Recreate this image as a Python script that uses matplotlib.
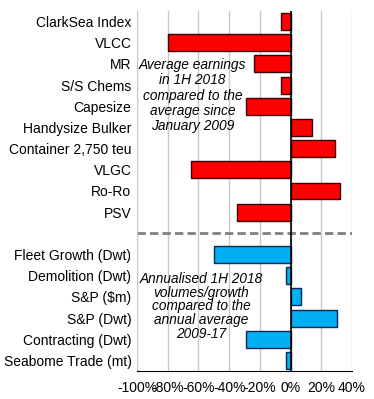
import matplotlib
matplotlib.use("Agg")
import matplotlib.pyplot as plt
import numpy as np

plt.rcParams['font.family'] = ['Liberation Sans', 'DejaVu Sans']

earn_labels = ["ClarkSea Index", "VLCC", "MR", "S/S Chems", "Capesize",
               "Handysize Bulker", "Container 2,750 teu", "VLGC", "Ro-Ro", "PSV"]
earn_values = [-6, -80, -23.5, -6, -29, 14, 29, -65, 32, -35]

vol_labels = ["Fleet Growth (Dwt)", "Demolition (Dwt)", "S&P ($m)", "S&P (Dwt)",
              "Contracting (Dwt)", "Seabome Trade (mt)"]
vol_values = [-50, -3, 7, 30, -29, -3]

xticks = [-100, -80, -60, -40, -20, 0, 20, 40]
xticklabels = ["-100%", "-80%", "-60%", "-40%", "-20%", "0%", "20%", "40%"]

fig = plt.figure(figsize=(3.74, 3.99), dpi=100)
ax = fig.add_axes([137/374, 1-371/399, 215/374, 360/399])

n_e = len(earn_labels)
n_v = len(vol_labels)
labels = earn_labels + [""] + vol_labels
y_e = np.arange(n_e)
y_gap = n_e
y_v = np.arange(n_e + 1, n_e + 1 + n_v)

ax.barh(y_e, earn_values, height=0.8, color="#FF0000", edgecolor="#3a0000", linewidth=1, zorder=3)
ax.barh(y_v, vol_values, height=0.8, color="#00B0F0", edgecolor="#0a2a55", linewidth=1, zorder=3)

ax.set_ylim(len(labels) - 0.5, -0.5)
ax.set_xlim(-100, 40)
ax.set_yticks(np.arange(len(labels)))
ax.set_yticklabels(labels, fontsize=10)
ax.set_xticks(xticks)
ax.set_xticklabels(xticklabels, fontsize=10)
ax.tick_params(axis='both', length=0, pad=4)
ax.tick_params(axis='x', pad=7)

ax.grid(axis='x', color="#c8c8c8", linewidth=1, zorder=0)
ax.axvline(0, color="black", linewidth=1.2, zorder=4)
ax.axhline(y_gap, color="#808080", linewidth=2, linestyle=(0, (3, 1.5)), zorder=2)

for s in ["top", "right"]:
    ax.spines[s].set_visible(False)
ax.spines["left"].set_color("#c8c8c8")
ax.spines["bottom"].set_color("black")

ax.text(-64, 3.5, "Average earnings\nin 1H 2018\ncompared to the\naverage since\nJanuary 2009",
        ha="center", va="center", style="italic", fontsize=9.9, linespacing=1.12, zorder=5)
ax.text(-58, 13.45, "Annualised 1H 2018\nvolumes/growth\ncompared to the\nannual average\n2009-17",
        ha="center", va="center", style="italic", fontsize=9.8, linespacing=0.98, zorder=5)

fig.savefig("out.png", dpi=100)
